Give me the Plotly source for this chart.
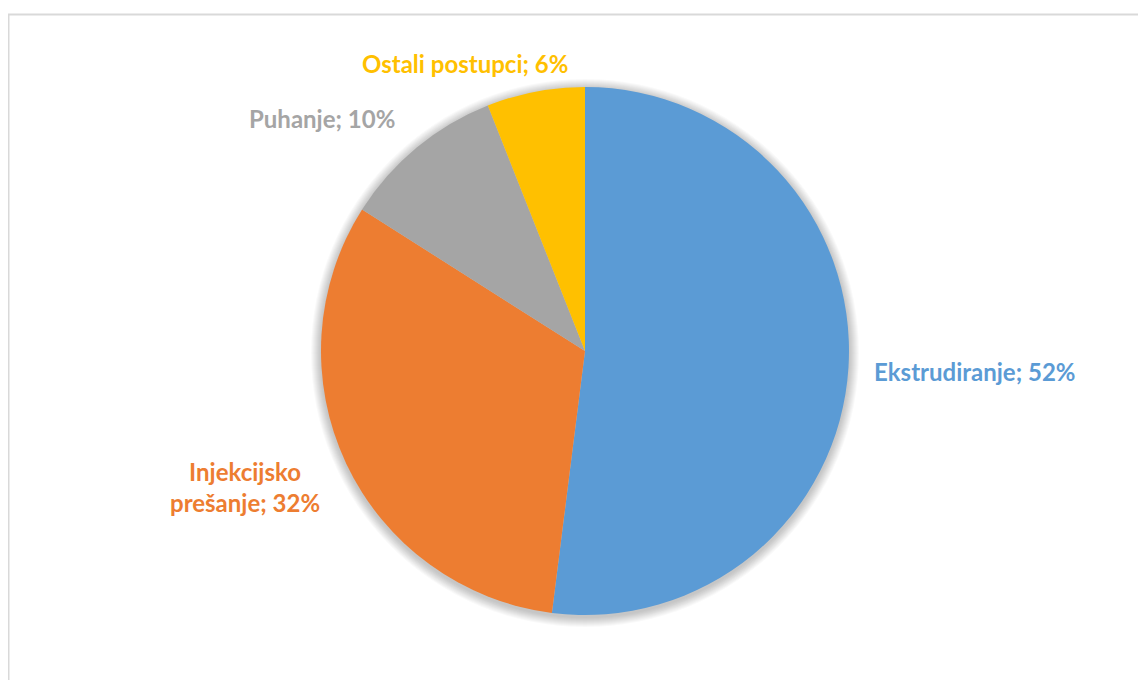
import plotly.graph_objects as go

categories = ["Ekstrudiranje", "Injekcijsko prešanje", "Puhanje", "Ostali postupci"]
values = [52, 32, 10, 6]
colors = ["#5B9BD5", "#ED7D31", "#A5A5A5", "#FFC000"]

W, H = 1146, 680
# figure is drawn with an 8px page offset; coordinates below are in figure pixels
cx, cy, r = 577, 343, 264


def px(x):
    return x / W


def py(y):
    return 1 - y / H


fig = go.Figure()

# soft shadow behind the pie
for i in range(10, 0, -1):
    rr = r + i
    fig.add_shape(type="circle", xref="paper", yref="paper",
                  x0=px(cx - rr), x1=px(cx + rr), y0=py(cy + 2 + rr), y1=py(cy + 2 - rr),
                  line=dict(width=0), fillcolor="rgba(0,0,0,0.022)", layer="below")

fig.add_trace(go.Pie(
    labels=categories, values=values, sort=False, direction="clockwise", rotation=0,
    marker=dict(colors=colors, line=dict(width=0)),
    textinfo="none", hoverinfo="label+percent", showlegend=False,
    domain=dict(x=[px(cx - r), px(cx + r)], y=[py(cy + r), py(cy - r)]),
))

label_texts = [
    f"{categories[0]}; {values[0]}%",
    f"Injekcijsko<br>prešanje; {values[1]}%",
    f"{categories[2]}; {values[2]}%",
    f"{categories[3]}; {values[3]}%",
]
label_pos = [(864, 363, "left"), (237, 479, "center"), (314, 111, "center"), (457, 55, "center")]

for txt, (lx, ly, anc), col in zip(label_texts, label_pos, colors):
    fig.add_annotation(
        x=px(lx), y=py(ly), xref="paper", yref="paper", text=f"<b>{txt}</b>",
        showarrow=False, xanchor=anc, yanchor="middle", align="center",
        font=dict(family="Lato", size=24, color=col),
    )

fig.add_shape(type="rect", xref="paper", yref="paper",
              x0=px(0.5), x1=1.02, y0=-0.02, y1=py(6.5),
              line=dict(color="#D9D9D9", width=2), fillcolor="rgba(0,0,0,0)", layer="below")

fig.update_layout(width=W, height=H, margin=dict(l=0, r=0, t=0, b=0),
                  paper_bgcolor="white", plot_bgcolor="white")
fig.write_html("out.html")
